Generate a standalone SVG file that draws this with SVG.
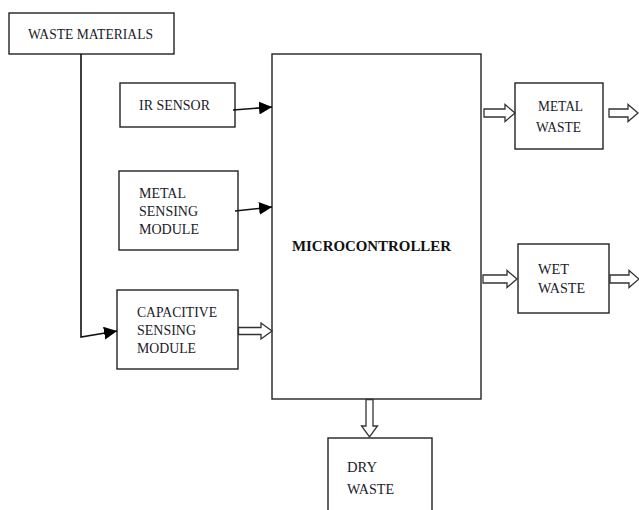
<svg xmlns="http://www.w3.org/2000/svg" width="639" height="510" viewBox="0 0 639 510">
<style>
.box{fill:#fff;stroke:#222;stroke-width:1.4}
.t{font-family:"Liberation Serif","Times New Roman",serif;font-size:15px;fill:#1a1a2a}
.b{font-family:"Liberation Serif","Times New Roman",serif;font-size:15px;font-weight:bold;fill:#111}
.ln{fill:none;stroke:#111;stroke-width:1.6}
.ho{fill:#fff;stroke:#333;stroke-width:1.3;stroke-linejoin:miter}
</style>
<defs>
<marker id="ah" markerUnits="userSpaceOnUse" markerWidth="14" markerHeight="14" refX="13" refY="6.5" orient="auto">
<path d="M0,0 L13,6.5 L0,13 Z" fill="#000"/>
</marker>
</defs>
<rect width="639" height="510" fill="#fff"/>
<g id="waste-materials"><rect class="box" x="9" y="13" width="165" height="41"/><text class="t" x="28" y="39" textLength="125" lengthAdjust="spacingAndGlyphs">WASTE MATERIALS</text></g>
<g id="ir-sensor"><rect class="box" x="120" y="83" width="115" height="44"/><text class="t" x="139" y="110" textLength="71" lengthAdjust="spacingAndGlyphs">IR SENSOR</text></g>
<g id="metal-sensing"><rect class="box" x="119" y="171" width="119" height="79"/><text class="t" x="139" y="198" textLength="47" lengthAdjust="spacingAndGlyphs">METAL</text><text class="t" x="139" y="216" textLength="59" lengthAdjust="spacingAndGlyphs">SENSING</text><text class="t" x="139" y="234" textLength="60" lengthAdjust="spacingAndGlyphs">MODULE</text></g>
<g id="capacitive-sensing"><rect class="box" x="117" y="290" width="121" height="79"/><text class="t" x="137" y="317" textLength="80" lengthAdjust="spacingAndGlyphs">CAPACITIVE</text><text class="t" x="137" y="335" textLength="59" lengthAdjust="spacingAndGlyphs">SENSING</text><text class="t" x="137" y="353" textLength="59" lengthAdjust="spacingAndGlyphs">MODULE</text></g>
<g id="microcontroller"><rect class="box" x="272" y="54" width="209" height="345"/><text class="b" x="292" y="251" textLength="159" lengthAdjust="spacingAndGlyphs">MICROCONTROLLER</text></g>
<g id="metal-waste"><rect class="box" x="515" y="83" width="88" height="66"/><text class="t" x="538" y="111" textLength="45" lengthAdjust="spacingAndGlyphs">METAL</text><text class="t" x="536" y="132" textLength="45" lengthAdjust="spacingAndGlyphs">WASTE</text></g>
<g id="wet-waste"><rect class="box" x="518" y="244" width="91" height="69"/><text class="t" x="538" y="274" textLength="31" lengthAdjust="spacingAndGlyphs">WET</text><text class="t" x="538" y="293" textLength="47" lengthAdjust="spacingAndGlyphs">WASTE</text></g>
<g id="dry-waste"><rect class="box" x="328" y="438" width="104" height="80"/><text class="t" x="347" y="472" textLength="30" lengthAdjust="spacingAndGlyphs">DRY</text><text class="t" x="347" y="494" textLength="47" lengthAdjust="spacingAndGlyphs">WASTE</text></g>
<g id="connectors">
<polyline class="ln" points="81,54 81,337 117,331" marker-end="url(#ah)"/>
<line class="ln" x1="233" y1="110" x2="272" y2="107" marker-end="url(#ah)"/>
<line class="ln" x1="235" y1="211" x2="272" y2="207" marker-end="url(#ah)"/>
<path class="ho" d="M238.5,327.5 H261 V323 L272,331 L261,339 V334.5 H238.5 Z"/>
<path class="ho" d="M484,109 H505 V104.5 L515,113 L505,121.5 V117 H484 Z"/>
<path class="ho" d="M609,109 H628 V104.5 L638,113 L628,121.5 V117 H609 Z"/>
<path class="ho" d="M483,275 H507 V270.5 L517,279 L507,287.5 V283 H483 Z"/>
<path class="ho" d="M610,275 H629 V270.5 L639,279 L629,287.5 V283 H610 Z"/>
<path class="ho" d="M366,399.5 V426 H361.5 L369.5,437 L377.5,426 H373 V399.5 Z"/>
</g>
</svg>
